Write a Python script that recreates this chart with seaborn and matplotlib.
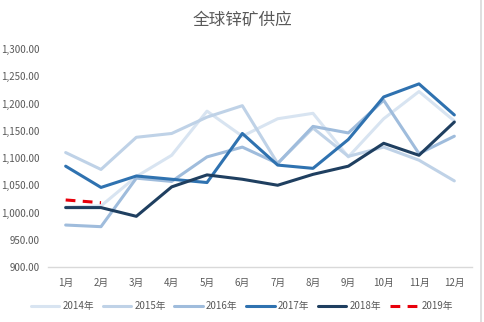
import matplotlib
matplotlib.use("Agg")
import matplotlib.pyplot as plt
import seaborn as sns
import pandas as pd
from matplotlib.ticker import FuncFormatter
from matplotlib.lines import Line2D

months = ["1月", "2月", "3月", "4月", "5月", "6月", "7月", "8月", "9月", "10月", "11月", "12月"]
y2014 = [1010, 1012, 1066, 1105, 1186, 1140, 1172, 1182, 1102, 1172, 1222, 1168]
y2015 = [1110, 1079, 1138, 1145, 1175, 1196, 1090, 1155, 1103, 1120, 1096, 1058]
y2016 = [977, 974, 1063, 1057, 1102, 1120, 1090, 1158, 1146, 1206, 1108, 1140]
y2017 = [1085, 1046, 1067, 1061, 1055, 1145, 1087, 1081, 1134, 1212, 1236, 1179]
y2018 = [1009, 1009, 993, 1047, 1069, 1061, 1050, 1070, 1085, 1127, 1105, 1166]
y2019 = [1023, 1018]
series_names = ["2014年", "2015年", "2016年", "2017年", "2018年", "2019年"]
yticks = [900, 950, 1000, 1050, 1100, 1150, 1200, 1250, 1300]

series = [y2014, y2015, y2016, y2017, y2018, y2019]
colors = ["#d8e4f1", "#bfd2e7", "#9fbcdc", "#2f72b0", "#1f3f60", "#e8000b"]
dash = (0, (3.2, 2.4))

rows = []
for name, vals in zip(series_names, series):
    for i, v in enumerate(vals):
        rows.append({"month": i, "value": v, "year": name})
df = pd.DataFrame(rows)

sns.set_theme(style="white")
plt.rcParams['font.family'] = ['Noto Sans CJK SC', 'DejaVu Sans']

fig = plt.figure(figsize=(4.84, 3.22), dpi=100)
ax = fig.add_axes([48/484, (322-267)/322, (472-48)/484, (267-49)/322])

handles = []
for name, col in zip(series_names, colors):
    sub = df[df["year"] == name]
    dashed = name == "2019年"
    sns.lineplot(data=sub, x="month", y="value", ax=ax, color=col,
                 linewidth=2.2, linestyle=dash if dashed else "-",
                 legend=False)
    handles.append(Line2D([0], [0], color=col, linewidth=2.2,
                          linestyle=dash if dashed else "-", label=name))

ax.set_xlim(-0.5, 11.5)
ax.set_ylim(900, 1300)
ax.set_yticks(yticks)
ax.yaxis.set_major_formatter(FuncFormatter(lambda v, p: f"{v:,.2f}"))
ax.set_xticks(range(12))
ax.set_xticklabels(months)
ax.set_xlabel("")
ax.set_ylabel("")
ax.tick_params(axis="both", length=0, labelsize=7, colors="#595959")
ax.tick_params(axis="x", pad=8)
ax.tick_params(axis="y", pad=6)
for s in ["top", "right", "left"]:
    ax.spines[s].set_visible(False)
ax.spines["bottom"].set_color("#d9d9d9")
ax.spines["bottom"].set_linewidth(1)
ax.grid(False)

fig.text(0.5, (322-20)/322, "全球锌矿供应", ha="center", va="center",
         fontsize=12, color="#595959")

fig.legend(handles=handles, loc="center", bbox_to_anchor=(0.5, (322-306)/322),
           ncol=6, frameon=False, fontsize=7, handlelength=2.9, columnspacing=0.9,
           handletextpad=0.35, labelcolor="#595959")

fig.add_artist(Line2D([481/484, 481/484], [0, 1], color="#d9d9d9", linewidth=1.2,
                      transform=fig.transFigure))

fig.savefig("out.png", dpi=100)
